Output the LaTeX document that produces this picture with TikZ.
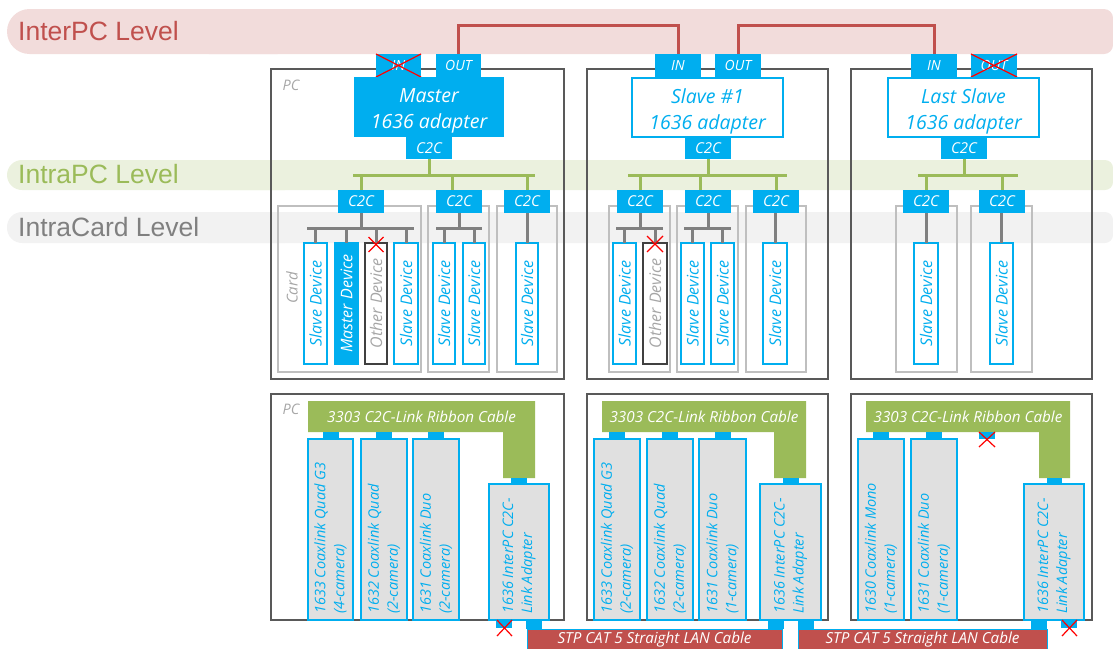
\documentclass[tikz,border=0pt]{standalone}
\usepackage{fontspec}
\setmainfont{Open Sans}
\newfontfamily\lvlfont{Liberation Sans}
\usetikzlibrary{calc}
\definecolor{cy}{RGB}{0,174,239}
\definecolor{rd}{RGB}{192,80,77}
\definecolor{gn}{RGB}{155,187,89}
\definecolor{gy}{RGB}{128,128,128}
\definecolor{bandR}{RGB}{242,220,219}
\definecolor{bandG}{RGB}{235,241,222}
\definecolor{bandY}{RGB}{242,242,242}
\definecolor{pcb}{RGB}{89,89,89}
\definecolor{cardb}{RGB}{191,191,191}
\definecolor{lbl}{RGB}{166,166,166}
\definecolor{dk}{RGB}{64,64,64}
\definecolor{hwfill}{RGB}{224,224,224}
\newcommand\mybox[7]{\node[#2, minimum width={(#5)-(#3)}, minimum height={(#6)-(#4)}] (#1) at ({((#3)+(#5))/2},{((#4)+(#6))/2}) {#7};}
\newcommand\mydev[5]{\node[#2, rotate=90, minimum width=121, minimum height={(#4)-(#3)}] (#1) at ({((#3)+(#4))/2},303.5) {#5};}
\tikzset{
  box/.style={rectangle, inner sep=0pt, outer sep=0pt},
  bluebox/.style={box, fill=cy, text=white, font=\itshape\fontsize{14}{16}\selectfont},
  c2c/.style={box, fill=cy, text=white, font=\itshape\fontsize{15}{17}\selectfont},
  adapter/.style={box, draw=cy, line width=1.3pt, fill=white},
  masteradapter/.style={adapter, fill=cy},
  adtxt/.style={inner sep=0pt, align=center, yshift=-3.5pt, font=\itshape\fontsize{19.5}{26}\selectfont},
  pcbox/.style={box, draw=pcb, line width=1.3pt},
  cardbox/.style={box, draw=cardb, line width=1.5pt},
  dev/.style={box, draw=cy, line width=1.4pt, fill=white, text=cy, font=\itshape\fontsize{16}{18}\selectfont},
  mdev/.style={dev, fill=cy, text=white},
  odev/.style={dev, draw=dk, text=lbl},
  gline/.style={draw=gn, line width=3pt},
  yline/.style={draw=gy, line width=3pt},
  rline/.style={draw=rd, line width=3pt},
  xmark/.style={draw=red, line width=1.2pt},
  hw/.style={box, draw=cy, line width=1.8pt, fill=hwfill},
  hwtxt/.style={rotate=90, anchor=west, align=left, text=cy, font=\itshape\fontsize{14.5}{19}\selectfont, inner sep=0pt},
  conn/.style={box, fill=cy},
  ribbon/.style={fill=gn},
  ribtxt/.style={text=white, inner sep=0pt, font=\itshape\fontsize{15.2}{17}\selectfont},
  lan/.style={box, fill=rd, draw=cy, line width=0.8pt, text=white, font=\itshape\fontsize{15.2}{17}\selectfont},
  pclbl/.style={text=lbl, inner sep=0pt, font=\itshape\fontsize{14.5}{16}\selectfont},
  lvl/.style={anchor=base west, inner sep=0pt, font=\lvlfont\fontsize{26.5}{30}\selectfont},
}
\begin{document}
\begin{tikzpicture}[x=1pt,y=-1pt]
\useasboundingbox (0,0) rectangle (1113,648);
% bands
\fill[bandR, rounded corners=22.5] (7,9) rectangle (300,54);
\fill[bandR, rounded corners=9] (200,9) rectangle (1113,54);
\fill[bandG, rounded corners=15] (7,160) rectangle (300,190);
\fill[bandG, rounded corners=8] (200,160) rectangle (1113,190);
\fill[bandY, rounded corners=15] (7,212) rectangle (300,243);
\fill[bandY, rounded corners=8] (200,212) rectangle (1113,243);
\node[lvl, text=rd] (lvlA) at (18,40) {InterPC Level};
\node[lvl, text=gn] (lvlB) at (18,183) {IntraPC Level};
\node[lvl, text=gy] (lvlC) at (18,236) {IntraCard Level};

% ===== top: PC boxes =====
\mybox{mPC}{pcbox}{271}{69}{564}{379}{}
\mybox{sPC}{pcbox}{587}{69}{828}{379}{}
\mybox{lPC}{pcbox}{851}{69}{1092}{379}{}
\node[pclbl] (mPCl) at (291,85) {PC};

% cards
\mybox{mK1}{cardbox}{278}{206}{421}{372}{}
\mybox{mK2}{cardbox}{428}{206}{489}{372}{}
\mybox{mK3}{cardbox}{497}{206}{557}{372}{}
\mybox{sK1}{cardbox}{609}{206}{670}{372}{}
\mybox{sK2}{cardbox}{677}{206}{738}{372}{}
\mybox{sK3}{cardbox}{746}{206}{806}{372}{}
\mybox{lK1}{cardbox}{896}{206}{957}{372}{}
\mybox{lK2}{cardbox}{971}{206}{1032}{372}{}
\node[pclbl, rotate=90, font=\itshape\fontsize{15}{16}\selectfont] (cardl) at (292,288) {Card};

% IN/OUT
\mybox{mIN}{bluebox}{376}{54}{421}{77}{IN}
\mybox{mOUT}{bluebox}{436}{54}{481}{77}{OUT}
\mybox{sIN}{bluebox}{655}{54}{701}{77}{IN}
\mybox{sOUT}{bluebox}{715}{54}{761}{77}{OUT}
\mybox{lIN}{bluebox}{911}{54}{957}{77}{IN}
\mybox{lOUT}{bluebox}{971}{54}{1017}{77}{OUT}
\draw[xmark] (mIN.north west) -- (mIN.south east) (mIN.south west) -- (mIN.north east);
\draw[xmark] (lOUT.north west) -- (lOUT.south east) (lOUT.south west) -- (lOUT.north east);

% InterPC links
\coordinate (topy) at (0,25);
\draw[rline] (mOUT.north) |- (sIN.north |- topy) -- (sIN.north);
\draw[rline] (sOUT.north) |- (lIN.north |- topy) -- (lIN.north);

% adapters
\mybox{mAd}{masteradapter}{355}{78}{503}{136}{}
\mybox{sAd}{adapter}{632}{78}{783}{137}{}
\mybox{lAd}{adapter}{888}{78}{1039}{137}{}
\node[adtxt, text=white] (mAdt) at (mAd.center) {Master\\1636 adapter};
\node[adtxt, text=cy] (sAdt) at (sAd.center) {Slave \#1\\1636 adapter};
\node[adtxt, text=cy] (lAdt) at (lAd.center) {Last Slave\\1636 adapter};
\mybox{mC}{c2c}{406}{137}{452}{159}{C2C}
\mybox{sC}{c2c}{685}{138}{731}{159}{C2C}
\mybox{lC}{c2c}{941}{138}{987}{159}{C2C}

% card C2C
\mybox{mC1}{c2c}{338}{190}{384}{213}{C2C}
\mybox{mC2}{c2c}{436}{190}{482}{213}{C2C}
\mybox{mC3}{c2c}{504}{190}{550}{213}{C2C}
\mybox{sC1}{c2c}{617}{190}{663}{213}{C2C}
\mybox{sC2}{c2c}{685}{190}{731}{213}{C2C}
\mybox{sC3}{c2c}{753}{190}{799}{213}{C2C}
\mybox{lC1}{c2c}{903}{190}{949}{213}{C2C}
\mybox{lC2}{c2c}{979}{190}{1025}{213}{C2C}

% green IntraPC trees
\coordinate (gy) at (0,175);
\coordinate (mGL) at (353,175); \coordinate (mGR) at (535,175);
\coordinate (sGL) at (628,175); \coordinate (sGR) at (787,175);
\coordinate (lGL) at (918,175); \coordinate (lGR) at (1018,175);
\draw[gline] (mC.south) -- (mC.south |- gy);
\draw[gline] (mGL) -- (mGR);
\draw[gline] (mC1.north |- gy) -- (mC1.north);
\draw[gline] ([xshift=-7pt]mC2.north |- gy) -- ([xshift=-7pt]mC2.north);
\draw[gline] (mC3.north |- gy) -- (mC3.north);
\draw[gline] (sC.south) -- (sC.south |- gy);
\draw[gline] (sGL) -- (sGR);
\draw[gline] (sC1.north |- gy) -- (sC1.north);
\draw[gline] ([xshift=-8pt]sC2.north |- gy) -- ([xshift=-8pt]sC2.north);
\draw[gline] (sC3.north |- gy) -- (sC3.north);
\draw[gline] (lC.south) -- (lC.south |- gy);
\draw[gline] (lGL) -- (lGR);
\draw[gline] (lC1.north |- gy) -- (lC1.north);
\draw[gline] (lC2.north |- gy) -- (lC2.north);

% devices
\mydev{mD1}{dev}{304}{327}{Slave Device}
\mydev{mD2}{mdev}{335}{358}{Master Device}
\mydev{mD3}{odev}{365}{387}{Other Device}
\mydev{mD4}{dev}{394}{418}{Slave Device}
\mydev{mD5}{dev}{433}{455}{Slave Device}
\mydev{mD6}{dev}{463}{485}{Slave Device}
\mydev{mD7}{dev}{516}{538}{Slave Device}
\mydev{sD1}{dev}{613}{636}{Slave Device}
\mydev{sD2}{odev}{643}{667}{Other Device}
\mydev{sD3}{dev}{681}{704}{Slave Device}
\mydev{sD4}{dev}{711}{734}{Slave Device}
\mydev{sD5}{dev}{763}{787}{Slave Device}
\mydev{lD1}{dev}{914}{938}{Slave Device}
\mydev{lD2}{dev}{990}{1013}{Slave Device}

% grey IntraCard trees
\coordinate (cy) at (0,228);
\draw[yline] (mC1.south) -- (mC1.south |- cy);
\draw[yline] (307,228) coordinate (mB1L) -- (414,228) coordinate (mB1R);
\foreach \d in {mD1,mD2,mD3,mD4} \draw[yline] (\d.east |- cy) -- (\d.east);
\draw[yline] (mC2.south) -- (mC2.south |- cy);
\draw[yline] (436,228) coordinate (mB2L) -- (482,228) coordinate (mB2R);
\foreach \d in {mD5,mD6} \draw[yline] (\d.east |- cy) -- (\d.east);
\draw[yline] (mC3.south) -- (mD7.east);
\draw[yline] (sC1.south) -- (sC1.south |- cy);
\draw[yline] (616,228) coordinate (sB1L) -- (663,228) coordinate (sB1R);
\foreach \d in {sD1,sD2} \draw[yline] (\d.east |- cy) -- (\d.east);
\draw[yline] (sC2.south) -- (sC2.south |- cy);
\draw[yline] (684,228) coordinate (sB2L) -- (731,228) coordinate (sB2R);
\foreach \d in {sD3,sD4} \draw[yline] (\d.east |- cy) -- (\d.east);
\draw[yline] (sD5.east |- sC3.south) -- (sD5.east);
\draw[yline] (lD1.east |- lC1.south) -- (lD1.east);
\draw[yline] (lD2.east |- lC2.south) -- (lD2.east);
\draw[xmark] ($(mD3.east)+(-7.5,-6)$) -- ($(mD3.east)+(7.5,9)$) ($(mD3.east)+(-7.5,9)$) -- ($(mD3.east)+(7.5,-6)$);
\draw[xmark] ($(sD2.east)+(-8,-7)$) -- ($(sD2.east)+(8,9)$) ($(sD2.east)+(-8,9)$) -- ($(sD2.east)+(8,-7)$);

% ===== bottom =====
\mybox{bmPC}{pcbox}{271}{394}{564}{620}{}
\mybox{bsPC}{pcbox}{587}{394}{828}{620}{}
\mybox{blPC}{pcbox}{851}{394}{1092}{620}{}
\node[pclbl] (bmPCl) at (291,409) {PC};

\fill[ribbon] (308,401) -- (535,401) -- (535,478) -- (503,478) -- (503,432) -- (308,432) -- cycle;
\fill[ribbon] (602,401) -- (806,401) -- (806,478) -- (774,478) -- (774,432) -- (602,432) -- cycle;
\fill[ribbon] (866,401) -- (1070,401) -- (1070,478) -- (1039,478) -- (1039,432) -- (866,432) -- cycle;
\node[ribtxt] (mR) at (421.5,416.5) {3303 C2C-Link Ribbon Cable};
\node[ribtxt] (sR) at (704,416.5) {3303 C2C-Link Ribbon Cable};
\node[ribtxt] (lR) at (968,416.5) {3303 C2C-Link Ribbon Cable};

% cards
\mybox{bm1}{hw}{308}{439}{353}{620}{}
\mybox{bm2}{hw}{361}{439}{407}{620}{}
\mybox{bm3}{hw}{413}{439}{459}{620}{}
\mybox{bmA}{hw}{489}{484}{549}{620}{}
\mybox{bs1}{hw}{594}{439}{640}{620}{}
\mybox{bs2}{hw}{647}{439}{693}{620}{}
\mybox{bs3}{hw}{699}{439}{746}{620}{}
\mybox{bsA}{hw}{760}{484}{821}{620}{}
\mybox{bl1}{hw}{858}{439}{904}{620}{}
\mybox{bl2}{hw}{911}{439}{957}{620}{}
\mybox{blA}{hw}{1024}{484}{1084}{620}{}

% connectors
\mybox{cm1}{conn}{323}{432}{339}{439}{}
\mybox{cm2}{conn}{376}{432}{392}{439}{}
\mybox{cm3}{conn}{428}{432}{444}{439}{}
\mybox{cmA}{conn}{511}{478}{527}{484}{}
\mybox{cs1}{conn}{609}{432}{625}{439}{}
\mybox{cs2}{conn}{662}{432}{678}{439}{}
\mybox{cs3}{conn}{715}{432}{731}{439}{}
\mybox{csA}{conn}{783}{478}{799}{484}{}
\mybox{cl1}{conn}{873}{432}{889}{439}{}
\mybox{cl2}{conn}{926}{432}{942}{439}{}
\mybox{cl3}{conn}{979}{432}{995}{439}{}
\mybox{clA}{conn}{1047}{478}{1062}{484}{}
\draw[xmark] (979,432) -- (995,447) (979,447) -- (995,432);

% card texts
\node[hwtxt] (tm1) at (bm1.south |- 0,614) {1633 Coaxlink Quad G3\\(4-camera)};
\node[hwtxt] (tm2) at (bm2.south |- 0,614) {1632 Coaxlink Quad\\(2-camera)};
\node[hwtxt] (tm3) at (bm3.south |- 0,614) {1631 Coaxlink Duo\\(2-camera)};
\node[hwtxt] (tmA) at (bmA.south |- 0,614) {1636 InterPC C2C-\\Link Adapter};
\node[hwtxt] (ts1) at (bs1.south |- 0,614) {1633 Coaxlink Quad G3\\(2-camera)};
\node[hwtxt] (ts2) at (bs2.south |- 0,614) {1632 Coaxlink Quad\\(2-camera)};
\node[hwtxt] (ts3) at (bs3.south |- 0,614) {1631 Coaxlink Duo\\(1-camera)};
\node[hwtxt] (tsA) at (bsA.south |- 0,614) {1636 InterPC C2C-\\Link Adapter};
\node[hwtxt] (tl1) at (bl1.south |- 0,614) {1630 Coaxlink Mono\\(1-camera)};
\node[hwtxt] (tl2) at (bl2.south |- 0,614) {1631 Coaxlink Duo\\(1-camera)};
\node[hwtxt] (tlA) at (blA.south |- 0,614) {1636 InterPC C2C-\\Link Adapter};

% LAN cables
\mybox{lan1}{lan}{527}{629}{782}{650}{\raisebox{-1pt}{STP CAT 5 Straight LAN Cable}}
\mybox{lan2}{lan}{798}{629}{1047}{650}{\raisebox{-1pt}{STP CAT 5 Straight LAN Cable}}
\mybox{bmL}{conn}{496}{620}{512}{628}{}
\mybox{bmR}{conn}{526}{620}{542}{629}{}
\mybox{bsL}{conn}{768}{620}{784}{629}{}
\mybox{bsR}{conn}{798}{620}{814}{629}{}
\mybox{blL}{conn}{1031}{620}{1047}{629}{}
\mybox{blR}{conn}{1061}{620}{1077}{628}{}
\draw[xmark] (497,620) -- (512,636) (497,636) -- (512,620);
\draw[xmark] (1062,620) -- (1077,636) (1062,636) -- (1077,620);
\end{tikzpicture}
\end{document}
